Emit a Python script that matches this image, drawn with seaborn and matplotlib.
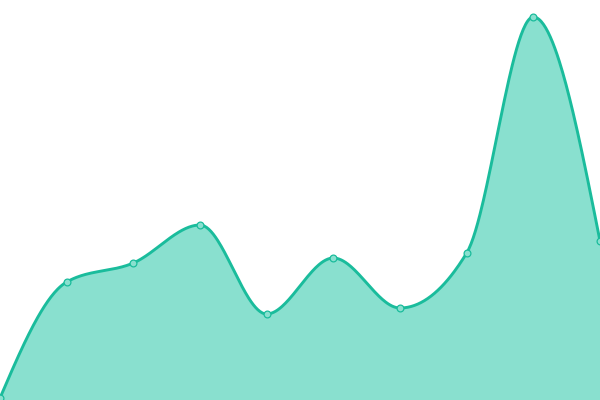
import numpy as np
import pandas as pd
import matplotlib
matplotlib.use("Agg")
import matplotlib.pyplot as plt
import seaborn as sns

# Data
x_idx = [0, 1, 2, 3, 4, 5, 6, 7, 8, 9]
values = [2, 118, 137, 175, 86, 142, 92, 147, 383, 159]

LINE = "#1abc9c"
FILL = "#89e0cf"


def monotone_x(x, y, n=60):
    x = np.asarray(x, float)
    y = np.asarray(y, float)
    h = np.diff(x)
    s = np.diff(y) / h
    m = len(x)
    t = np.zeros(m)
    for i in range(1, m - 1):
        h0, h1, s0, s1 = h[i - 1], h[i], s[i - 1], s[i]
        p = (s0 * h1 + s1 * h0) / (h0 + h1)
        t[i] = (np.sign(s0) + np.sign(s1)) * min(abs(s0), abs(s1), 0.5 * abs(p))
    t[0] = (3 * s[0] - t[1]) / 2
    t[-1] = (3 * s[-1] - t[-2]) / 2
    xs, ys = [], []
    for i in range(m - 1):
        u = np.linspace(0, 1, n, endpoint=(i == m - 2))
        dx = h[i] / 3
        P0 = (x[i], y[i])
        P1 = (x[i] + dx, y[i] + dx * t[i])
        P2 = (x[i + 1] - dx, y[i + 1] - dx * t[i + 1])
        P3 = (x[i + 1], y[i + 1])
        b0 = (1 - u) ** 3
        b1 = 3 * (1 - u) ** 2 * u
        b2 = 3 * (1 - u) * u ** 2
        b3 = u ** 3
        xs.append(b0 * P0[0] + b1 * P1[0] + b2 * P2[0] + b3 * P3[0])
        ys.append(b0 * P0[1] + b1 * P1[1] + b2 * P2[1] + b3 * P3[1])
    return np.concatenate(xs), np.concatenate(ys)


sx, sy = monotone_x(x_idx, values)
smooth = pd.DataFrame({"x": sx, "y": sy})
pts = pd.DataFrame({"x": x_idx, "y": values})

sns.set_theme(style="white")
fig = plt.figure(figsize=(6, 4), dpi=100)
ax = fig.add_axes([0, 0, 1, 1])
ax.fill_between(sx, sy, 0, color=FILL, linewidth=0)
sns.lineplot(data=smooth, x="x", y="y", ax=ax, color=LINE, linewidth=2.1, sort=False)
sns.scatterplot(data=pts, x="x", y="y", ax=ax, s=24, color=FILL,
                edgecolor=LINE, linewidth=0.9, zorder=5)
ax.set_xlim(0, 9)
ax.set_ylim(0, 400)
ax.axis("off")
fig.savefig("out.png", dpi=100)
